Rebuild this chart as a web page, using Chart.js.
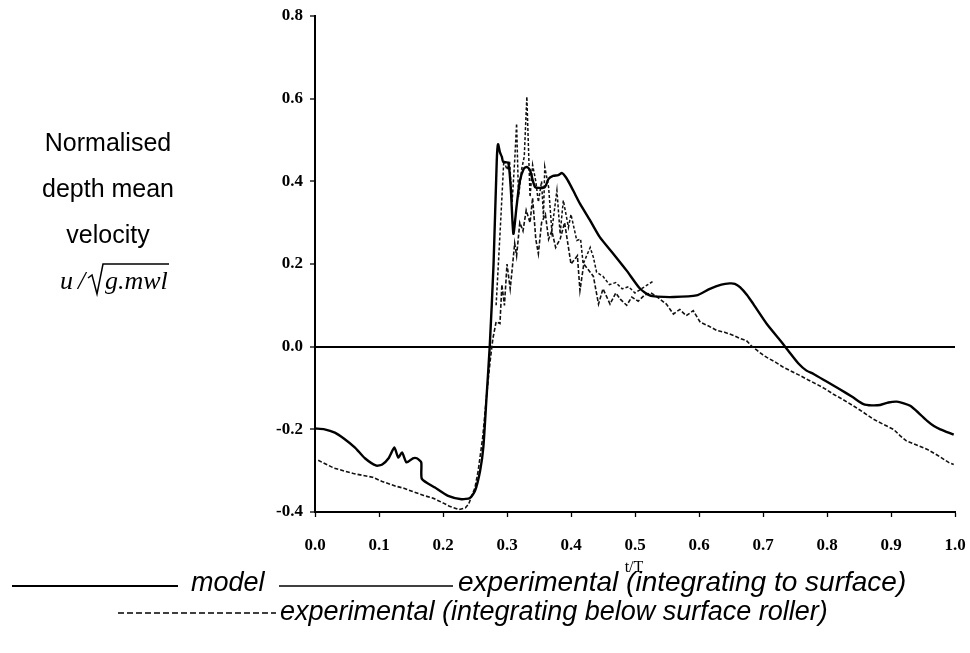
<!DOCTYPE html>
<html><head><meta charset="utf-8">
<script src="https://cdn.jsdelivr.net/npm/chart.js@4/dist/chart.umd.min.js"></script>
<style>html,body{margin:0;padding:0;background:#fff}#wrap{width:970px;height:653px}</style>
</head><body><div id="wrap"><canvas id="c" width="970" height="653"></canvas></div>
<script>
const xTicks = [0,0.1,0.2,0.3,0.4,0.5,0.6,0.7,0.8,0.9,1.0];
const yTicks = [-0.4,-0.2,0.0,0.2,0.4,0.6,0.8];

const modelT = [0,0.015,0.031,0.045,0.0625,0.078,0.096,0.105,0.115,0.124,0.13,0.136,0.143,0.153,0.159,0.166,0.167,0.1875,0.208,0.229,0.242,0.25,0.258,0.263,0.268,0.273,0.279,0.284,0.286,0.289,0.292,0.294,0.302,0.306,0.31,0.315,0.32,0.326,0.331,0.336,0.344,0.359,0.365,0.372,0.38,0.386,0.392,0.398,0.406,0.414,0.43,0.445,0.466,0.487,0.508,0.523,0.535,0.56,0.596,0.617,0.635,0.648,0.656,0.664,0.675,0.685,0.706,0.727,0.74,0.755,0.768,0.779,0.8,0.82,0.84,0.857,0.87,0.883,0.896,0.909,0.92,0.93,0.943,0.956,0.967,0.977,0.99,0.998];
const modelV = [-0.198,-0.2,-0.208,-0.222,-0.244,-0.27,-0.288,-0.285,-0.27,-0.244,-0.268,-0.256,-0.28,-0.27,-0.27,-0.28,-0.32,-0.341,-0.361,-0.369,-0.366,-0.349,-0.3,-0.244,-0.123,0.0,0.2,0.45,0.49,0.47,0.459,0.447,0.445,0.38,0.273,0.34,0.4,0.43,0.435,0.427,0.386,0.386,0.406,0.413,0.415,0.42,0.41,0.394,0.37,0.346,0.305,0.265,0.225,0.184,0.14,0.124,0.121,0.12,0.124,0.14,0.15,0.153,0.152,0.144,0.125,0.103,0.055,0.015,-0.011,-0.04,-0.058,-0.066,-0.085,-0.103,-0.122,-0.139,-0.142,-0.141,-0.135,-0.133,-0.137,-0.143,-0.16,-0.179,-0.192,-0.2,-0.208,-0.213];

const surfT = [0.283,0.29,0.295,0.3,0.304,0.308,0.312,0.315,0.318,0.323,0.327,0.331,0.336,0.34,0.345,0.349,0.354,0.357,0.359,0.365,0.37,0.378,0.383,0.388,0.396,0.4,0.409,0.415,0.419,0.43,0.435,0.44,0.45,0.46,0.47,0.48,0.49,0.5,0.51,0.52,0.53];
const surfV = [0.1,0.3,0.45,0.428,0.45,0.35,0.45,0.54,0.362,0.43,0.46,0.605,0.362,0.44,0.4,0.35,0.4,0.313,0.435,0.386,0.281,0.378,0.273,0.354,0.289,0.32,0.257,0.26,0.2,0.24,0.216,0.18,0.17,0.15,0.155,0.14,0.145,0.13,0.14,0.15,0.16];

const rollT = [0.005,0.03,0.06,0.09,0.105,0.125,0.14,0.155,0.17,0.185,0.2,0.21,0.225,0.235,0.24,0.25,0.255,0.262,0.268,0.274,0.278,0.283,0.289,0.292,0.296,0.3,0.305,0.308,0.312,0.315,0.32,0.325,0.33,0.336,0.34,0.345,0.349,0.354,0.36,0.365,0.37,0.376,0.383,0.39,0.396,0.4,0.41,0.414,0.42,0.43,0.435,0.443,0.45,0.456,0.461,0.47,0.477,0.487,0.495,0.505,0.515,0.525,0.535,0.549,0.56,0.57,0.58,0.591,0.602,0.615,0.628,0.64,0.654,0.664,0.674,0.683,0.69,0.7,0.706,0.72,0.732,0.745,0.758,0.77,0.784,0.797,0.81,0.825,0.841,0.856,0.872,0.888,0.904,0.914,0.924,0.94,0.956,0.972,0.99,0.998];
const rollV = [-0.275,-0.294,-0.307,-0.316,-0.326,-0.337,-0.343,-0.352,-0.36,-0.367,-0.378,-0.386,-0.394,-0.39,-0.381,-0.341,-0.3,-0.22,-0.12,-0.03,0.02,0.06,0.056,0.15,0.1,0.2,0.14,0.186,0.25,0.22,0.3,0.28,0.33,0.3,0.36,0.26,0.225,0.3,0.32,0.26,0.28,0.24,0.26,0.3,0.24,0.2,0.22,0.136,0.2,0.18,0.17,0.103,0.14,0.12,0.103,0.13,0.115,0.1,0.12,0.11,0.125,0.13,0.12,0.103,0.079,0.09,0.075,0.087,0.059,0.05,0.039,0.035,0.027,0.02,0.015,0.0,-0.008,-0.02,-0.026,-0.038,-0.05,-0.06,-0.07,-0.08,-0.091,-0.102,-0.115,-0.128,-0.143,-0.158,-0.175,-0.188,-0.2,-0.215,-0.228,-0.238,-0.248,-0.262,-0.28,-0.285];

const seriesNames = ['model','experimental (integrating to surface)','experimental (integrating below surface roller)'];
const yTitleLines = ['Normalised','depth mean','velocity'];

const pts = (t,v) => t.map((x,i)=>({x:x,y:v[i]}));

const extras = {
  id:'extras',
  afterDraw(chart){
    const c = chart.ctx;
    c.save();
    c.fillStyle='#000'; c.strokeStyle='#000';
    // left title
    c.font='25px "Liberation Sans", Arial, sans-serif';
    c.textAlign='center'; c.textBaseline='middle';
    const ly=[144,190,236];
    yTitleLines.forEach((s,i)=>c.fillText(s,108,ly[i]));
    // formula u / sqrt(g.mwl)
    c.font='italic 26px "Liberation Serif", "Times New Roman", serif';
    c.textAlign='left'; c.textBaseline='alphabetic';
    c.fillText('u',60,289);
    c.fillText('/',78,289);
    c.lineWidth=1.5;
    c.beginPath();
    c.moveTo(88,278); c.lineTo(92,275); c.lineTo(97,294); c.lineTo(103,264); c.lineTo(169,264);
    c.stroke();
    c.fillText('g.mwl',105,289);
    // x title
    c.font='16px "Liberation Serif", "Times New Roman", serif';
    c.textAlign='center'; c.textBaseline='middle';
    c.fillText('t/T',634,568);
    // legend
    c.textAlign='left'; c.textBaseline='alphabetic';
    const y1=591, y2=620;
    c.setLineDash([]);
    c.font='italic 27px "Liberation Sans", Arial, sans-serif';
    c.lineWidth=2.2; c.beginPath(); c.moveTo(12,y1-5); c.lineTo(178,y1-5); c.stroke();
    c.fillText(seriesNames[0],191,y1);
    c.lineWidth=1.4; c.beginPath(); c.moveTo(279,y1-5); c.lineTo(453,y1-5); c.stroke();
    c.font='italic 28px "Liberation Sans", Arial, sans-serif';
    c.fillText(seriesNames[1],458,y1);
    c.font='italic 27px "Liberation Sans", Arial, sans-serif';
    c.setLineDash([6,3]);
    c.lineWidth=1.4; c.beginPath(); c.moveTo(118,y2-7); c.lineTo(276,y2-7); c.stroke();
    c.setLineDash([]);
    c.fillText(seriesNames[2],280,y2);
    c.restore();
  }
};

new Chart(document.getElementById('c'),{
  type:'line',
  data:{datasets:[
    {label:seriesNames[0],data:pts(modelT,modelV),borderColor:'#000',borderWidth:2.4,pointRadius:0,tension:0.2,fill:false},
    {label:seriesNames[1],data:pts(surfT,surfV),borderColor:'#111',borderWidth:1.5,borderDash:[3,2],pointRadius:0,tension:0,fill:false},
    {label:seriesNames[2],data:pts(rollT,rollV),borderColor:'#111',borderWidth:1.6,borderDash:[4,2],pointRadius:0,tension:0,fill:false}
  ]},
  options:{
    responsive:false,animation:false,
    layout:{padding:{left:0,right:15,top:16,bottom:0}},
    plugins:{legend:{display:false},tooltip:{enabled:false}},
    scales:{
      x:{type:'linear',min:0,max:1,
        afterBuildTicks:s=>{s.ticks=xTicks.map(v=>({value:v}));},
        afterFit:s=>{s.height=141;s.paddingLeft=0;s.paddingRight=0;},
        border:{display:true,color:'#000',width:2},
        grid:{drawOnChartArea:false,drawTicks:true,tickLength:5,tickColor:'#000',tickWidth:1.3},
        ticks:{color:'#000',padding:18,maxRotation:0,autoSkip:false,
          font:{family:'"Liberation Serif", "Times New Roman", serif',size:17,weight:'bold'},
          callback:v=>Number(v).toFixed(1)}
      },
      y:{type:'linear',min:-0.4,max:0.8,
        afterBuildTicks:s=>{s.ticks=yTicks.map(v=>({value:v}));},
        afterFit:s=>{s.width=315;s.paddingTop=0;s.paddingBottom=0;},
        border:{display:true,color:'#000',width:2},
        grid:{drawOnChartArea:true,drawTicks:true,tickLength:5,tickColor:'#000',tickWidth:1.3,
          color:ctx=>(ctx.tick && Math.abs(ctx.tick.value)<1e-9)?'#000':'rgba(0,0,0,0)',
          lineWidth:ctx=>(ctx.tick && Math.abs(ctx.tick.value)<1e-9)?2:0},
        ticks:{color:'#000',padding:7,
          font:{family:'"Liberation Serif", "Times New Roman", serif',size:17,weight:'bold'},
          callback:v=>Number(v).toFixed(1)}
      }
    }
  },
  plugins:[extras]
});
</script></body></html>
